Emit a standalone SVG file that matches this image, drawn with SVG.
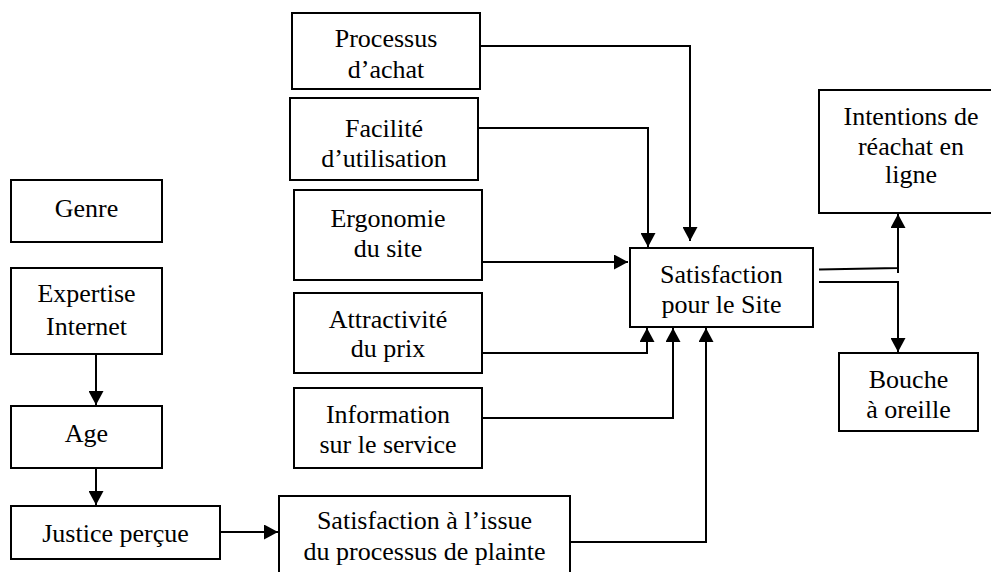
<svg xmlns="http://www.w3.org/2000/svg" width="991" height="572" viewBox="0 0 991 572" font-family="Liberation Serif, serif">
  <style>
    .box { fill: #fff; stroke: #000; stroke-width: 2; }
    .lbl { font-size: 26px; fill: #000; text-anchor: middle; }
    .conn { fill: none; stroke: #000; stroke-width: 2; }
  </style>
  <defs>
    <marker id="arr" viewBox="0 0 14 15" refX="14" refY="7.5" markerWidth="14" markerHeight="15" markerUnits="userSpaceOnUse" orient="auto">
      <path d="M0,0 L14,7.5 L0,15 z" fill="#000"/>
    </marker>
  </defs>
  <rect width="991" height="572" fill="#fff"/>

  <g id="processus">
    <rect class="box" x="292" y="13" width="188" height="76"/>
    <text class="lbl" font-family="Liberation Serif, serif" x="386" y="47">Processus</text>
    <text class="lbl" font-family="Liberation Serif, serif" x="386" y="78">d’achat</text>
  </g>
  <g id="facilite">
    <rect class="box" x="290" y="98" width="188" height="82"/>
    <text class="lbl" font-family="Liberation Serif, serif" x="384" y="137">Facilité</text>
    <text class="lbl" font-family="Liberation Serif, serif" x="384" y="167">d’utilisation</text>
  </g>
  <g id="ergonomie">
    <rect class="box" x="294" y="190" width="188" height="90"/>
    <text class="lbl" font-family="Liberation Serif, serif" x="388" y="227">Ergonomie</text>
    <text class="lbl" font-family="Liberation Serif, serif" x="388" y="257">du site</text>
  </g>
  <g id="attractivite">
    <rect class="box" x="294" y="293" width="188" height="80"/>
    <text class="lbl" font-family="Liberation Serif, serif" x="388" y="328">Attractivité</text>
    <text class="lbl" font-family="Liberation Serif, serif" x="388" y="357">du prix</text>
  </g>
  <g id="information">
    <rect class="box" x="294" y="388" width="188" height="80"/>
    <text class="lbl" font-family="Liberation Serif, serif" x="388" y="423">Information</text>
    <text class="lbl" font-family="Liberation Serif, serif" x="388" y="453">sur le service</text>
  </g>
  <g id="satisfaction-issue">
    <rect class="box" x="279" y="496" width="291" height="90"/>
    <text class="lbl" font-family="Liberation Serif, serif" x="424.5" y="529">Satisfaction à l’issue</text>
    <text class="lbl" font-family="Liberation Serif, serif" x="424.5" y="560">du processus de plainte</text>
  </g>
  <g id="satisfaction-site">
    <rect class="box" x="630" y="248" width="183" height="79"/>
    <text class="lbl" font-family="Liberation Serif, serif" x="721.5" y="283">Satisfaction</text>
    <text class="lbl" font-family="Liberation Serif, serif" x="721.5" y="313">pour le Site</text>
  </g>
  <g id="intentions">
    <rect class="box" x="819" y="90" width="175" height="123"/>
    <text class="lbl" font-family="Liberation Serif, serif" x="911" y="125">Intentions de</text>
    <text class="lbl" font-family="Liberation Serif, serif" x="911" y="155">réachat en</text>
    <text class="lbl" font-family="Liberation Serif, serif" x="911" y="183">ligne</text>
  </g>
  <g id="bouche">
    <rect class="box" x="839" y="353" width="139" height="78"/>
    <text class="lbl" font-family="Liberation Serif, serif" x="908.5" y="388">Bouche</text>
    <text class="lbl" font-family="Liberation Serif, serif" x="908.5" y="418">à oreille</text>
  </g>
  <g id="genre">
    <rect class="box" x="11" y="180" width="151" height="62"/>
    <text class="lbl" font-family="Liberation Serif, serif" x="86.5" y="217">Genre</text>
  </g>
  <g id="expertise">
    <rect class="box" x="11" y="268" width="151" height="86"/>
    <text class="lbl" font-family="Liberation Serif, serif" x="86.5" y="302">Expertise</text>
    <text class="lbl" font-family="Liberation Serif, serif" x="86.5" y="335">Internet</text>
  </g>
  <g id="age">
    <rect class="box" x="11" y="406" width="151" height="62"/>
    <text class="lbl" font-family="Liberation Serif, serif" x="86.5" y="442">Age</text>
  </g>
  <g id="justice">
    <rect class="box" x="11" y="506" width="209" height="53"/>
    <text class="lbl" font-family="Liberation Serif, serif" x="115.5" y="542">Justice perçue</text>
  </g>

  <g id="connectors">
    <path class="conn" d="M480,46 H690 V241" marker-end="url(#arr)"/>
    <path class="conn" d="M478,128 H648 V247" marker-end="url(#arr)"/>
    <path class="conn" d="M482,262 H628" marker-end="url(#arr)"/>
    <path class="conn" d="M482,353 H647 V328" marker-end="url(#arr)"/>
    <path class="conn" d="M482,418 H673 V328" marker-end="url(#arr)"/>
    <path class="conn" d="M570,542 H706 V328" marker-end="url(#arr)"/>
    <path class="conn" d="M96,354 V405" marker-end="url(#arr)"/>
    <path class="conn" d="M96,468 V505" marker-end="url(#arr)"/>
    <path class="conn" d="M220,532 H278" marker-end="url(#arr)"/>
    <path class="conn" d="M819,269.5 L898,268 V214" marker-end="url(#arr)"/>
    <path class="conn" d="M898,268 V273"/>
    <path class="conn" d="M819,282 H898 V352" marker-end="url(#arr)"/>
  </g>
</svg>
